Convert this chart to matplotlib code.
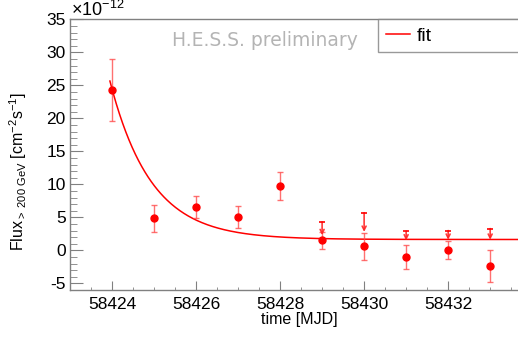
import numpy as np
import matplotlib
matplotlib.use("Agg")
import matplotlib.pyplot as plt
from matplotlib.ticker import MultipleLocator

# nightly flux points (units of 1e-12 cm^-2 s^-1)
days = [58424, 58425, 58426, 58427, 58428, 58429, 58430, 58431, 58432, 58433]
flux = [24.3, 4.85, 6.6, 5.05, 9.8, 1.55, 0.65, -1.0, 0.0, -2.4]
flux_err = [4.7, 2.0, 1.7, 1.7, 2.1, 1.3, 2.05, 1.75, 1.35, 2.45]

# upper limits (arrows)
ul_days = [58429, 58430, 58431, 58432, 58433]
ul_top = [4.3, 5.7, 2.9, 3.0, 3.3]
ul_tip = [2.3, 2.8, 1.5, 1.6, 1.6]

# exponential decay fit: C + A * exp(-(t - t0) / tau)
fit_amp = 22.8
fit_t0 = 58424
fit_tau = 0.977
fit_const = 1.65
fit_start = 58423.95
fit_end = 58434.0

plt.rcParams['font.family'] = ['Liberation Sans', 'DejaVu Sans']
plt.rcParams['mathtext.fontset'] = 'custom'
plt.rcParams['mathtext.rm'] = 'Liberation Sans'
plt.rcParams['mathtext.it'] = 'Liberation Sans:italic'

W, H = 518, 338
fig = plt.figure(figsize=(W / 100, H / 100), dpi=100)
ax = fig.add_axes([70 / W, (H - 290) / H, (528 - 70) / W, (290 - 19.3) / H])

frame = '#808080'
for side in ['left', 'bottom', 'top']:
    ax.spines[side].set_color(frame)
    ax.spines[side].set_linewidth(1)
ax.spines['right'].set_visible(False)

t = np.linspace(fit_start, fit_end, 400)
f = fit_const + fit_amp * np.exp(-(t - fit_t0) / fit_tau)
fit_line, = ax.plot(t, f, color='red', lw=1.1, label='fit', zorder=3)

ax.errorbar(days, flux, yerr=flux_err, fmt='o', color='red', ms=5,
            ecolor=(1, 0.3, 0.3, 0.8), elinewidth=1, capsize=2, capthick=1, zorder=4)

for x, top, tip in zip(ul_days, ul_top, ul_tip):
    ax.annotate('', xy=(x, tip), xytext=(x, top),
                arrowprops=dict(arrowstyle='->', color=(1, 0.15, 0.15, 0.9), lw=1.2,
                                shrinkA=0, shrinkB=0, mutation_scale=7), zorder=5)
ax.scatter(ul_days, ul_top, marker='_', s=22, color='red', linewidths=1.2, zorder=5)

ax.set_xlim(58423, 58433.9)
ax.set_ylim(-6, 35)
ax.xaxis.set_major_locator(MultipleLocator(2))
ax.xaxis.set_minor_locator(MultipleLocator(0.5))
ax.yaxis.set_major_locator(MultipleLocator(5))
ax.yaxis.set_minor_locator(MultipleLocator(1))
ax.tick_params(which='both', direction='in', color=frame, labelsize=12.5,
               top=False, right=False)
ax.tick_params(axis='y', which='major', length=9, pad=3)
ax.tick_params(axis='y', which='minor', length=5)
ax.tick_params(axis='x', which='major', length=6.5, pad=5)
ax.tick_params(axis='x', which='minor', length=2.5)
ax.set_yticklabels([f'{v:g}' for v in ax.get_yticks()])
ax.set_xlabel('time [MJD]', fontsize=11.5, labelpad=0)

fig.text(18 / W, 1 - 172 / H, r'Flux$_{>\ 200\ \mathrm{GeV}}$ [cm$^{-2}$s$^{-1}$]',
         rotation=90, ha='center', va='center', fontsize=11.5)
fig.text(71 / W, 1 - 10 / H, r'$\times$10$^{-12}$', ha='left', va='center', fontsize=13)

ax.text(265 / W, 1 - 40 / H, 'H.E.S.S. preliminary', transform=fig.transFigure,
        family='DejaVu Sans', color='#b4b4b4', fontsize=13.5, ha='center', va='center')

leg = ax.legend(handles=[fit_line], loc='upper left',
                bbox_to_anchor=(378 / W, 1 - 19.3 / H, 300 / W, 0.0),
                bbox_transform=fig.transFigure, mode='expand', borderaxespad=0,
                fontsize=14, frameon=True, fancybox=False, handlelength=1.25,
                handletextpad=0.35, borderpad=0.4)
leg.get_frame().set_edgecolor(frame)
leg.get_frame().set_linewidth(1)

fig.savefig('out.png', dpi=100)
